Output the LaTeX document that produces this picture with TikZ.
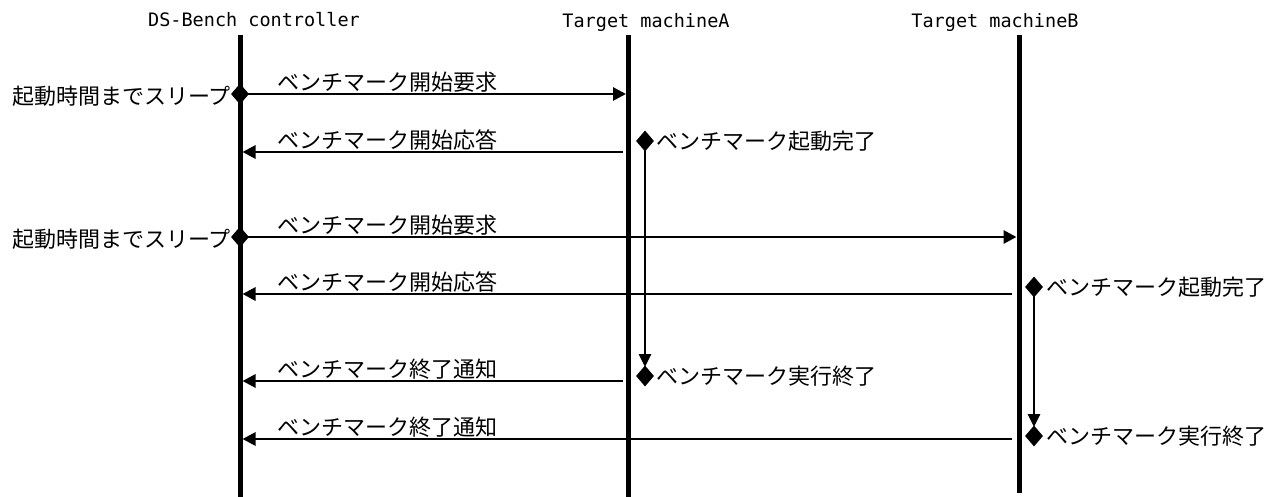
\documentclass[tikz,border=0pt]{standalone}
\usepackage{fontspec}
\setmainfont{Noto Sans CJK JP}
\newfontfamily\hdrfont{DejaVu Sans Mono}
\usetikzlibrary{arrows.meta,shapes.geometric}
\begin{document}
\begin{tikzpicture}[x=1pt,y=-1pt,
  lifeline/.style={line width=5pt},
  msg/.style={line width=2.8pt,-{Triangle[length=13pt,width=13pt]}},
  dmd/.style={diamond,fill=black,inner sep=0pt,minimum width=18pt,minimum height=21pt},
  hdr/.style={font=\hdrfont\fontsize{18.5}{20}\selectfont,inner sep=0pt},
  lbl/.style={font=\fontsize{22}{24}\selectfont,inner sep=0pt,anchor=base west},
  side/.style={font=\fontsize{22}{24}\selectfont,inner sep=0pt}
]
\useasboundingbox (0,0) rectangle (1280,497);
% headers
\node[hdr] (hC) at (254,20) {DS-Bench controller};
\node[hdr] (hA) at (646,22) {Target machineA};
\node[hdr] (hB) at (995,22) {Target machineB};
% lifelines
\coordinate (cT) at (240,35); \coordinate (cB) at (240,497);
\coordinate (aT) at (628,35); \coordinate (aB) at (628,497);
\coordinate (bT) at (1019,35); \coordinate (bB) at (1019,493);
\draw[lifeline] (cT) -- (cB);
\draw[lifeline] (aT) -- (aB);
\draw[lifeline] (bT) -- (bB);
% message end points
\coordinate (m1e) at (626,94);
\coordinate (m2s) at (623,152);  \coordinate (m2e) at (242.5,152);
\coordinate (m3e) at (1016.5,237);
\coordinate (m4s) at (1012,294); \coordinate (m4e) at (242.5,294);
\coordinate (m5s) at (623,381);  \coordinate (m5e) at (242.5,381);
\coordinate (m6s) at (1012,439); \coordinate (m6e) at (242.5,439);
% diamonds on controller
\node[dmd] (s1) at (240,94) {};
\node[dmd] (s2) at (240,237) {};
% messages
\draw[msg] (s1.center) -- (m1e);
\draw[msg] (m2s) -- (m2e);
\draw[msg] (s2.center) -- (m3e);
\draw[msg] (m4s) -- (m4e);
\draw[msg] (m5s) -- (m5e);
\draw[msg] (m6s) -- (m6e);
% message labels
\node[lbl] (l1) at (277,90.5) {ベンチマーク開始要求};
\node[lbl] (l2) at (277,148.5) {ベンチマーク開始応答};
\node[lbl] (l3) at (277,233.5) {ベンチマーク開始要求};
\node[lbl] (l4) at (277,290.5) {ベンチマーク開始応答};
\node[lbl] (l5) at (277,377.5) {ベンチマーク終了通知};
\node[lbl] (l6) at (277,435.5) {ベンチマーク終了通知};
% sleep labels
\node[side,anchor=east] (z1) at (231,96) {起動時間までスリープ};
\node[side,anchor=east] (z2) at (231,239) {起動時間までスリープ};
% target-side events
\node[dmd] (a1) at (645,141) {};
\node[dmd] (a2) at (645,376) {};
\node[dmd] (b1) at (1034,287) {};
\node[dmd] (b2) at (1034,436) {};
\node[side,anchor=west] (ta1) at (656,141) {ベンチマーク起動完了};
\node[side,anchor=west] (ta2) at (656,376) {ベンチマーク実行終了};
\node[side,anchor=west] (tb1) at (1046,287) {ベンチマーク起動完了};
\node[side,anchor=west] (tb2) at (1046,436) {ベンチマーク実行終了};
% durations
\coordinate (a2t) at (645,367);
\coordinate (b2t) at (1034,427);
\draw[line width=2.8pt,-{Triangle[length=13pt,width=12pt]}] (a1.center) -- (a2t);
\draw[line width=2.8pt,-{Triangle[length=13pt,width=12pt]}] (b1.center) -- (b2t);
\end{tikzpicture}
\end{document}
